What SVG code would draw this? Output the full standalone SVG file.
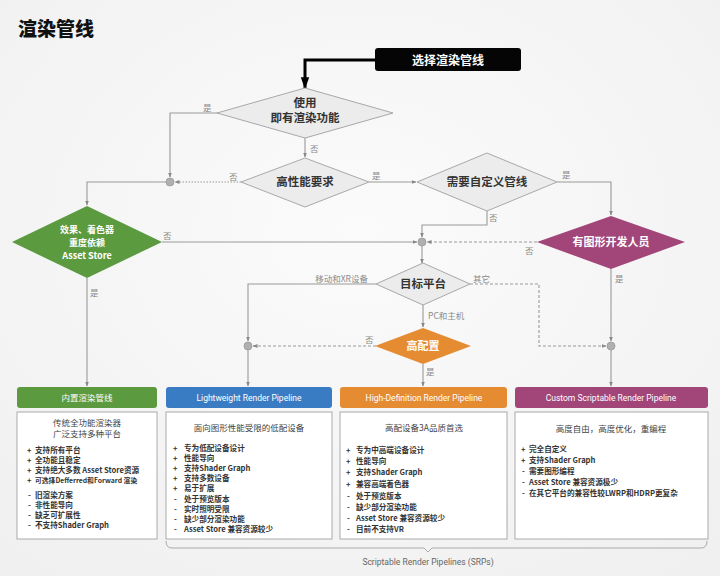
<svg xmlns="http://www.w3.org/2000/svg" width="720" height="576" viewBox="0 0 720 576">
<defs>
<radialGradient id="bg" cx="0.5" cy="0.4" r="0.8">
<stop offset="0" stop-color="#fbfbfb"/>
<stop offset="1" stop-color="#efefef"/>
</radialGradient>
<marker id="ah" viewBox="0 0 10 10" refX="9" refY="5" markerWidth="5" markerHeight="5" orient="auto" markerUnits="userSpaceOnUse">
<path d="M0,1 L10,5 L0,9 z" fill="#888"/>
</marker>
<marker id="ahb" viewBox="0 0 10 10" refX="9" refY="5" markerWidth="12" markerHeight="12" orient="auto" markerUnits="userSpaceOnUse">
<path d="M0,1.5 L10,5 L0,8.5 z" fill="#000"/>
</marker>
</defs>
<style>
.cjk{font-family:"Noto Sans CJK SC","Noto Sans",sans-serif}
.dt{font-family:"Noto Sans CJK SC",sans-serif;font-weight:700;fill:#333;font-size:11.5px;text-anchor:middle}
.wt{font-family:"Noto Sans CJK SC",sans-serif;font-weight:700;fill:#fff;text-anchor:middle}
.lb{font-family:"Noto Sans CJK SC",sans-serif;fill:#8a8a8a;font-size:8.5px}
.ln{fill:none;stroke:#999;stroke-width:1.1}
.dash{stroke-dasharray:3 2}
.dot{stroke-dasharray:1.5 1.5}
.gd{fill:#ececec;stroke:#a8a8a8;stroke-width:1}
.jc{fill:#b0b0b0;stroke:#999;stroke-width:0.8}
.hd{font-family:Roboto,"Noto Sans CJK SC",sans-serif;fill:#fff;font-size:8.5px;text-anchor:middle}
.body{fill:#fff;stroke:#aaa;stroke-width:1}
.bt{font-family:"Noto Sans CJK SC",sans-serif;font-weight:700;fill:#333;font-size:7.6px}
.ct{font-family:"Noto Sans CJK SC",sans-serif;fill:#444;font-size:8.5px;text-anchor:middle}
</style>
<rect width="720" height="576" fill="url(#bg)"/>
<text x="18" y="36" class="cjk" font-size="19" font-weight="900" fill="#111">渲染管线</text>

<g id="connectors">
<path d="M375,60 H305 V88" fill="none" stroke="#000" stroke-width="3" marker-end="url(#ahb)"/>
<path class="ln" d="M218,113 H170 V177" marker-end="url(#ah)"/>
<path class="ln" d="M305,138 V157" marker-end="url(#ah)"/>
<path class="ln dot" d="M241,182 H175" marker-end="url(#ah)"/>
<path class="ln" d="M166,182 H87 V205" marker-end="url(#ah)"/>
<path class="ln" d="M369,182 H416" marker-end="url(#ah)"/>
<path class="ln" d="M557,182 H611 V215" marker-end="url(#ah)"/>
<path class="ln" d="M487,211 V225 H422 V237" marker-end="url(#ah)"/>
<path class="ln" d="M162,242 H417" marker-end="url(#ah)"/>
<path class="ln dash" d="M537,242 H427" marker-end="url(#ah)"/>
<path class="ln" d="M422,246 V263" marker-end="url(#ah)"/>
<path class="ln" d="M376,284 H248 V341" marker-end="url(#ah)"/>
<path class="ln" d="M248,350 V386" marker-end="url(#ah)"/>
<path class="ln" d="M423,305 V327" marker-end="url(#ah)"/>
<path class="ln dash" d="M376,346 H253" marker-end="url(#ah)"/>
<path class="ln" d="M423,364 V386" marker-end="url(#ah)"/>
<path class="ln dash" d="M470,284 H539 V346 H606" marker-end="url(#ah)"/>
<path class="ln" d="M611,269 V341" marker-end="url(#ah)"/>
<path class="ln" d="M611,350 V386" marker-end="url(#ah)"/>
<path class="ln" d="M87,278 V386" marker-end="url(#ah)"/>
<circle class="jc" cx="170" cy="182" r="4"/>
<circle class="jc" cx="422" cy="242" r="4"/>
<circle class="jc" cx="248" cy="346" r="4"/>
<circle class="jc" cx="611" cy="346" r="4"/>
<text class="lb" x="203" y="111">是</text>
<text class="lb" x="310" y="152">否</text>
<text class="lb" x="229" y="180">否</text>
<text class="lb" x="372" y="179">是</text>
<text class="lb" x="562" y="178">是</text>
<text class="lb" x="489" y="221">否</text>
<text class="lb" x="163" y="239">否</text>
<text class="lb" x="525" y="254">否</text>
<text class="lb" x="615" y="282">是</text>
<text class="lb" x="90" y="296">是</text>
<text class="lb" x="368" y="282" text-anchor="end">移动和XR设备</text>
<text class="lb" x="473" y="282">其它</text>
<text class="lb" x="428" y="319">PC和主机</text>
<text class="lb" x="365" y="343">否</text>
<text class="lb" x="426" y="375">是</text>
</g>

<g id="start">
<rect x="375" y="48" width="146" height="23" rx="3" fill="#050505"/>
<text class="wt" x="448" y="64.5" font-size="12">选择渲染管线</text>
</g>
<g id="d-use">
<polygon class="gd" points="305,88 393,113 305,138 217,113"/>
<text class="dt" x="305" y="106.5" font-size="10">使用</text>
<text class="dt" x="305" y="122" font-size="10">即有渲染功能</text>
</g>
<g id="d-perf">
<polygon class="gd" points="305,158 369,182 305,207 241,182"/>
<text class="dt" x="305" y="186">高性能要求</text>
</g>
<g id="d-custom">
<polygon class="gd" points="487,153 557,182 487,211 417,182"/>
<text class="dt" x="487" y="186">需要自定义管线</text>
</g>
<g id="d-asset">
<polygon points="87,206 162,242 87,278 12,242" fill="#5c9a40"/>
<text class="wt" x="87" y="233" font-size="9">效果、着色器</text>
<text class="wt" x="87" y="246" font-size="9">重度依赖</text>
<text class="wt" x="87" y="259" font-size="9">Asset Store</text>
</g>
<g id="d-dev">
<polygon points="611,216 685,242 611,269 537,242" fill="#a2467a"/>
<text class="wt" x="611" y="246" font-size="11">有图形开发人员</text>
</g>
<g id="d-platform">
<polygon class="gd" points="423,263 470,284 423,305 376,284"/>
<text class="dt" x="423" y="288">目标平台</text>
</g>
<g id="d-high">
<polygon points="423,328 471,346 423,364 375,346" fill="#e58c33"/>
<text class="wt" x="423" y="350" font-size="11">高配置</text>
</g>

<g id="builtin">
<rect x="17" y="387" width="140" height="21" rx="3" fill="#5c9a40"/>
<text class="hd cjk" x="87" y="400.5">内置渲染管线</text>
<rect class="body" x="17" y="412" width="140" height="127"/>
<text class="ct" x="87" y="426">传统全功能渲染器</text>
<text class="ct" x="87" y="437">广泛支持多种平台</text>
<g class="bt">
<text x="27" y="453">+</text><text x="35" y="453">支持所有平台</text>
<text x="27" y="463">+</text><text x="35" y="463">全功能且稳定</text>
<text x="27" y="473">+</text><text x="35" y="473">支持绝大多数 Asset Store资源</text>
<text x="27" y="483">+</text><text x="35" y="483" font-size="6.8">可选择Defferred和Forward 渲染</text>
<text x="28" y="498">-</text><text x="35" y="498">旧渲染方案</text>
<text x="28" y="508">-</text><text x="35" y="508">非性能导向</text>
<text x="28" y="518">-</text><text x="35" y="518">缺乏可扩展性</text>
<text x="28" y="528">-</text><text x="35" y="528">不支持Shader Graph</text>
</g>
</g>

<g id="lwrp">
<rect x="166" y="387" width="166" height="21" rx="3" fill="#3a7cc3"/>
<text class="hd" x="249" y="400.5">Lightweight Render Pipeline</text>
<rect class="body" x="166" y="412" width="166" height="127"/>
<text class="ct" x="249" y="431">面向图形性能受限的低配设备</text>
<g class="bt">
<text x="173" y="451">+</text><text x="184" y="451">专为低配设备设计</text>
<text x="173" y="461">+</text><text x="184" y="461">性能导向</text>
<text x="173" y="471">+</text><text x="184" y="471">支持Shader Graph</text>
<text x="173" y="481">+</text><text x="184" y="481">支持多数设备</text>
<text x="173" y="491">+</text><text x="184" y="491">易于扩展</text>
<text x="174" y="502">-</text><text x="184" y="502">处于预览版本</text>
<text x="174" y="512">-</text><text x="184" y="512">实时照明受限</text>
<text x="174" y="522">-</text><text x="184" y="522">缺少部分渲染功能</text>
<text x="174" y="532">-</text><text x="184" y="532">Asset Store 兼容资源较少</text>
</g>
</g>

<g id="hdrp">
<rect x="340" y="387" width="167" height="21" rx="3" fill="#e58c33"/>
<text class="hd" x="424" y="400.5">High-Definition Render Pipeline</text>
<rect class="body" x="340" y="412" width="167" height="127"/>
<text class="ct" x="424" y="431">高配设备3A品质首选</text>
<g class="bt">
<text x="346" y="453">+</text><text x="356" y="453">专为中高端设备设计</text>
<text x="346" y="464">+</text><text x="356" y="464">性能导向</text>
<text x="346" y="475">+</text><text x="356" y="475">支持Shader Graph</text>
<text x="346" y="487">+</text><text x="356" y="487">兼容高端着色器</text>
<text x="347" y="499">-</text><text x="356" y="499">处于预览版本</text>
<text x="347" y="510">-</text><text x="356" y="510">缺少部分渲染功能</text>
<text x="347" y="521">-</text><text x="356" y="521">Asset Store 兼容资源较少</text>
<text x="347" y="532">-</text><text x="356" y="532">目前不支持VR</text>
</g>
</g>

<g id="custom">
<rect x="515" y="387" width="193" height="21" rx="3" fill="#a2467a"/>
<text class="hd" x="611" y="400.5">Custom Scriptable Render Pipeline</text>
<rect class="body" x="515" y="412" width="193" height="127"/>
<text class="ct" x="611" y="432">高度自由，高度优化，重编程</text>
<g class="bt">
<text x="521" y="452">+</text><text x="529" y="452">完全自定义</text>
<text x="521" y="463">+</text><text x="529" y="463">支持Shader Graph</text>
<text x="522" y="474">-</text><text x="529" y="474">需要图形编程</text>
<text x="522" y="485">-</text><text x="529" y="485">Asset Store 兼容资源极少</text>
<text x="522" y="496">-</text><text x="529" y="496">在其它平台的兼容性较LWRP和HDRP更复杂</text>
</g>
</g>

<g id="srp-brace">
<path d="M166,541 Q166,548 172,548 H424 L428,552 L432,548 H701 Q707,548 707,541" fill="none" stroke="#aaa" stroke-width="1"/>
<text x="428" y="565" font-family="Roboto,sans-serif" font-size="8.5" fill="#666" text-anchor="middle">Scriptable Render Pipelines (SRPs)</text>
</g>
</svg>
